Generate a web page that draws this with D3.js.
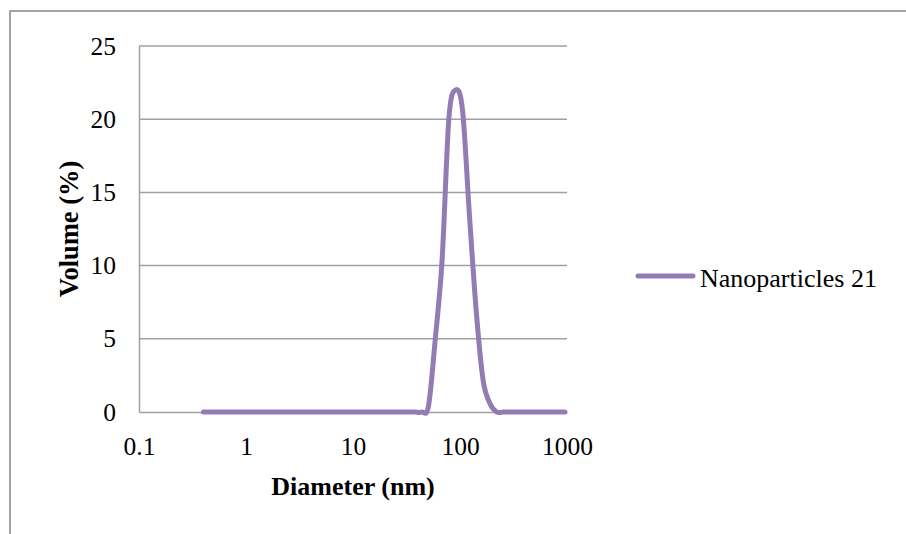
<!DOCTYPE html>
<html>
<head>
<meta charset="utf-8">
<script src="https://cdn.jsdelivr.net/npm/d3@7"></script>
<style>
  body { margin: 0; background: #fff; }
  svg { display: block; font-family: "Liberation Serif", "Times New Roman", serif; }
</style>
</head>
<body>
<div id="chart"></div>
<script>
// size bins (nm) and volume (%)
var diameters = [0.4, 0.4632, 0.5365, 0.6213, 0.7195, 0.8332, 0.9649, 1.117, 1.294, 1.499,
  1.736, 2.01, 2.328, 2.696, 3.122, 3.615, 4.187, 4.849, 5.615, 6.503,
  7.531, 8.721, 10.1, 11.7, 13.54, 15.69, 18.17, 21.04, 24.36, 28.21,
  32.67, 37.84, 43.82, 50.75, 58.77, 68.06, 78.82, 91.28, 105.7, 122.4,
  141.8, 164.2, 190.1, 220.2, 255.0, 295.3, 342.0, 396.1, 458.7, 531.2,
  615.1, 712.4, 825.0, 955.4];
var volume = [0, 0, 0, 0, 0, 0, 0, 0, 0, 0,
  0, 0, 0, 0, 0, 0, 0, 0, 0, 0,
  0, 0, 0, 0, 0, 0, 0, 0, 0, 0,
  0, 0, 0, 0.4, 5.0, 10.4, 20.1, 22.0, 20.6, 13.5,
  6.9, 2.2, 0.6, 0, 0, 0, 0, 0, 0, 0,
  0, 0, 0, 0];
var xTicks = [0.1, 1, 10, 100, 1000];
var yTicks = [0, 5, 10, 15, 20, 25];
var seriesName = "Nanoparticles 21";

var width = 906, height = 534;
var margin = { top: 46, right: 339, bottom: 122, left: 139 };

var x = d3.scaleLog().domain([0.1, 1000]).range([margin.left, width - margin.right]);
var y = d3.scaleLinear().domain([0, 25]).range([height - margin.bottom, margin.top]);

var svg = d3.select("#chart").append("svg")
  .attr("width", width)
  .attr("height", height);

// outer chart border
svg.append("rect")
  .attr("x", 10).attr("y", 11)
  .attr("width", 920).attr("height", 560)
  .attr("fill", "none")
  .attr("stroke", "#a3a3a3")
  .attr("stroke-width", 2);

// gridlines
svg.append("g")
  .selectAll("line")
  .data(yTicks.filter(function (d) { return d > 0; }))
  .enter().append("line")
  .attr("x1", x(0.1)).attr("x2", x(1000))
  .attr("y1", function (d) { return y(d); })
  .attr("y2", function (d) { return y(d); })
  .attr("stroke", "#a0a0a0")
  .attr("stroke-width", 1.5);

// y axis
var yAxis = svg.append("g")
  .attr("transform", "translate(" + x(0.1) + ",0)")
  .call(d3.axisLeft(y).tickValues(yTicks).tickSize(0).tickPadding(23));
yAxis.select(".domain").attr("stroke", "#a0a0a0").attr("stroke-width", 1.5);
yAxis.selectAll("text")
  .attr("font-family", "Liberation Serif, Times New Roman, serif")
  .attr("font-size", "25.5px").attr("fill", "#000");

// x axis
var xAxis = svg.append("g")
  .attr("transform", "translate(0," + y(0) + ")")
  .call(d3.axisBottom(x).tickValues(xTicks).tickFormat(function (d) { return d3.format("~g")(d); }).tickSize(0).tickPadding(25));
xAxis.select(".domain").attr("stroke", "#a0a0a0").attr("stroke-width", 1.5);
xAxis.selectAll("text")
  .attr("font-family", "Liberation Serif, Times New Roman, serif")
  .attr("font-size", "25.5px").attr("fill", "#000");

// series (smoothed like the spreadsheet line)
var line = d3.line()
  .x(function (d, i) { return x(diameters[i]); })
  .y(function (d) { return y(d); })
  .curve(d3.curveCatmullRom.alpha(0));

svg.append("path")
  .datum(volume)
  .attr("d", line)
  .attr("fill", "none")
  .attr("stroke", "#937cb3")
  .attr("stroke-width", 5)
  .attr("stroke-linejoin", "round")
  .attr("stroke-linecap", "round");

// axis titles
svg.append("text")
  .text("Diameter (nm)")
  .attr("x", (x(0.1) + x(1000)) / 2)
  .attr("y", 495)
  .attr("text-anchor", "middle")
  .attr("font-weight", "bold")
  .attr("font-size", "26px");

svg.append("text")
  .text("Volume (%)")
  .attr("transform", "translate(78," + (y(0) + y(25)) / 2 + ") rotate(-90)")
  .attr("text-anchor", "middle")
  .attr("font-weight", "bold")
  .attr("font-size", "26.5px");

// legend
var legend = svg.append("g");
legend.append("line")
  .attr("x1", 638).attr("x2", 693)
  .attr("y1", 276).attr("y2", 276)
  .attr("stroke", "#937cb3")
  .attr("stroke-width", 5)
  .attr("stroke-linecap", "round");
legend.append("text")
  .text(seriesName)
  .attr("x", 700).attr("y", 287)
  .attr("font-size", "26px");
</script>
</body>
</html>
